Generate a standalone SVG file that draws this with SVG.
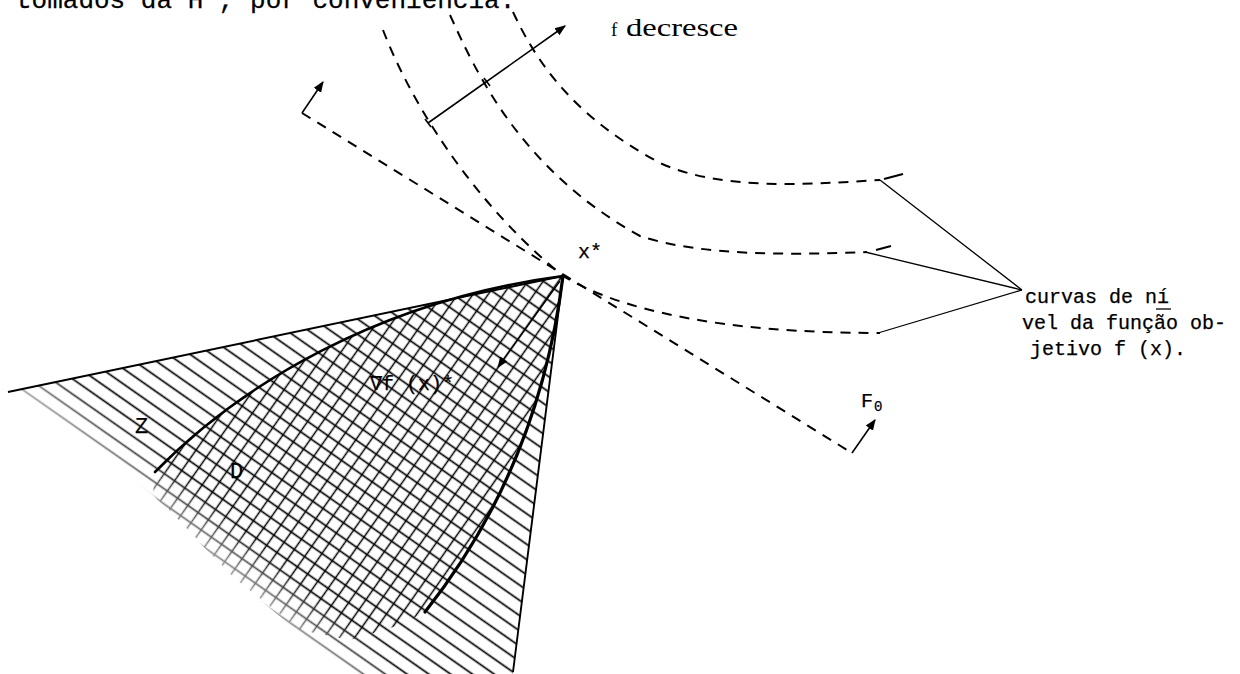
<svg xmlns="http://www.w3.org/2000/svg" width="1240" height="674" viewBox="0 0 1240 674">
<style>
.dash{fill:none;stroke:#000;stroke-width:2;stroke-dasharray:10 8}
.solid{fill:none;stroke:#000;stroke-width:1.6}
.lead{fill:none;stroke:#000;stroke-width:1.3}
.bold{fill:none;stroke:#000;stroke-width:3;stroke-linecap:round}
.mono{font-family:"Liberation Mono","DejaVu Sans Mono",monospace;font-size:20px;fill:#000;stroke:#000;stroke-width:0.25}
.serif{font-family:"Liberation Serif","DejaVu Serif",serif;fill:#000}
</style>
<defs>
<pattern id="hatch" width="12.5" height="12.5" patternUnits="userSpaceOnUse" patternTransform="rotate(35)">
<line x1="0" y1="6.25" x2="12.5" y2="6.25" stroke="#000" stroke-width="1.7"/>
</pattern>
<pattern id="cross" width="12.5" height="12.5" patternUnits="userSpaceOnUse" patternTransform="rotate(35)">
<line x1="6.25" y1="0" x2="6.25" y2="12.5" stroke="#000" stroke-width="1.5"/>
</pattern>
<linearGradient id="fadeG" gradientUnits="userSpaceOnUse" x1="233" y1="577" x2="262" y2="545">
<stop offset="0" stop-color="#fff" stop-opacity="0.4"/>
<stop offset="1" stop-color="#fff" stop-opacity="1"/>
</linearGradient>
<mask id="fade" maskUnits="userSpaceOnUse" x="0" y="0" width="1240" height="674">
<rect x="0" y="0" width="1240" height="674" fill="url(#fadeG)"/>
</mask>
<marker id="ah" viewBox="0 0 10 10" refX="9" refY="5" markerWidth="11" markerHeight="11" markerUnits="userSpaceOnUse" orient="auto">
<path d="M0,1 L10,5 L0,9 Z" fill="#000"/>
</marker>
</defs>

<!-- top text (cut off at the page edge, as in the scan) -->
<text class="mono" x="16" y="8" style="font-size:26px">tomados da H , por conveniência.</text>

<!-- feasible set with hatching -->
<g id="feasible-set">
<g mask="url(#fade)">
<path d="M8,392 L563,276 L513,674 L345,674 L290,625 L233,577 L153,495 L70,432 Z" fill="url(#hatch)"/>
<path d="M155,472 C240,385 380,300 563,276 C545,420 490,530 425,612 L400,625 L350,640 L300,630 L233,577 L153,493 Z" fill="url(#cross)"/>
</g>
<path class="solid" d="M8,392 L563,276 L513,672" style="stroke-width:1.9"/>
</g>

<g id="curve-Z">
<path class="bold" d="M155,472 C240,385 380,300 563,276" style="stroke-width:2.6"/>
</g>
<g id="curve-right">
<path class="bold" d="M425,612 C490,530 545,420 563,276" style="stroke-width:3.2"/>
</g>

<!-- constraint line F0 -->
<g id="constraint-F0">
<path class="dash" d="M302,113 L852,453"/>
<path class="solid" d="M302,113 L323,82" marker-end="url(#ah)"/>
<path class="solid" d="M852,453 L875,420" marker-end="url(#ah)"/>
</g>

<!-- level curves -->
<g id="level-curves">
<path class="dash" d="M383,30 C410,100 470,200 563,276 C620,310 720,333 880,333"/>
<path class="dash" d="M450,15 C475,70 520,170 640,236 C700,256 790,255 867,252"/>
<path class="solid" d="M876,250 L891,246" style="stroke-width:2"/>
<path class="dash" d="M513,12 C540,70 580,120 660,163 C720,190 800,185 880,180"/>
<path class="solid" d="M884,179 L903,174" style="stroke-width:2"/>
</g>

<!-- f decresce arrow -->
<g id="arrow-f-decresce">
<path class="solid" d="M428,123 L565,26" marker-end="url(#ah)"/>
<path class="solid" d="M425,119 L431,127"/>
<path class="solid" d="M484,78 L490,86"/>
</g>

<!-- gradient arrow -->
<g id="gradient-arrow">
<path class="solid" d="M560,281 L498,367" style="stroke-width:1.3" marker-end="url(#ah)"/>
</g>

<!-- connectors (leader lines) -->
<g id="connectors">
<path class="lead" d="M880,180 L1022,290"/>
<path class="lead" d="M865,252 L1022,290"/>
<path class="lead" d="M878,333 L1022,290"/>
</g>

<!-- labels -->
<g id="labels">
<text class="serif" x="611" y="36" style="font-size:19px">f</text>
<text class="serif" x="626" y="36" style="font-size:26px" textLength="112" lengthAdjust="spacingAndGlyphs">decresce</text>
<text class="mono" x="578" y="258">x*</text>
<text class="mono" x="135" y="433" style="font-size:22px">Z</text>
<text class="mono" x="230" y="478" style="font-size:22px">D</text>
<text class="mono" x="370" y="390">∇f (x)*</text>
<text class="mono" x="861" y="407">F</text>
<text class="mono" x="874" y="411" style="font-size:14px">0</text>
<g id="label-curvas">
<text class="mono" x="1025" y="303">curvas de ní</text>
<line x1="1156" y1="309" x2="1171" y2="309" stroke="#000" stroke-width="1.3"/>
<text class="mono" x="1022" y="329">vel da função ob-</text>
<text class="mono" x="1030" y="355">jetivo f (x).</text>
</g>
</g>
</svg>
